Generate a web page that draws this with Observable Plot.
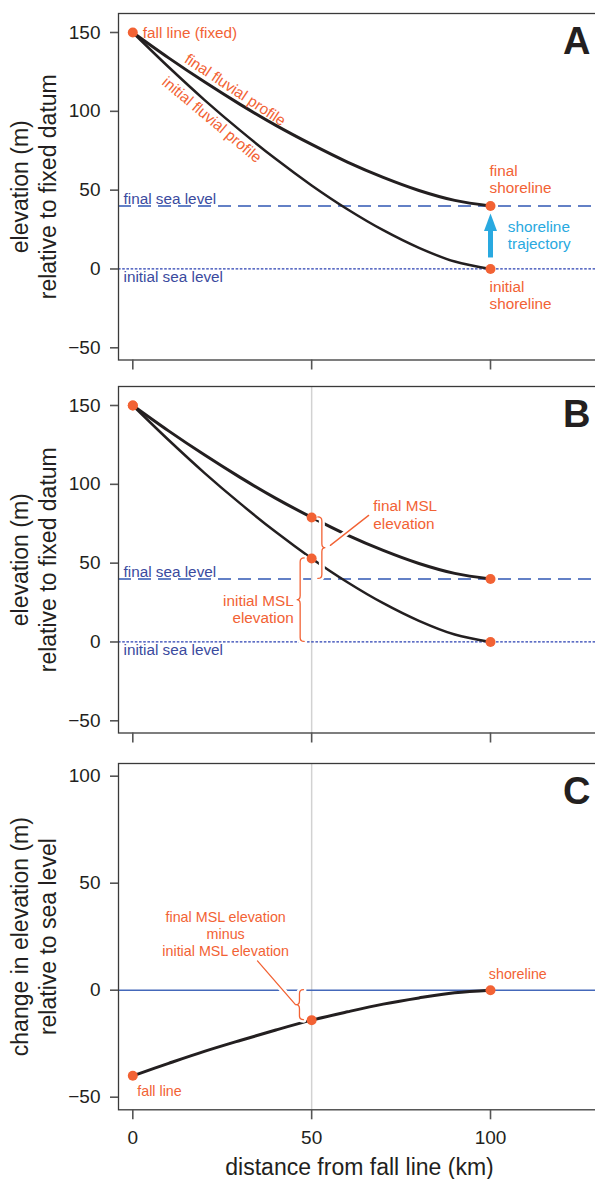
<!DOCTYPE html>
<html><head><meta charset="utf-8">
<script src="https://cdn.jsdelivr.net/npm/d3@7"></script>
<script src="https://cdn.jsdelivr.net/npm/@observablehq/plot@0.6"></script>
<style>
html,body{margin:0;padding:0;background:#fff;}
#wrap{position:relative;width:595px;height:1179px;overflow:hidden;background:#fff;}
</style></head><body><div id="wrap"></div>
<script>
// ---- data ----
const distance       = [0, 10, 20, 30, 40, 50, 60, 70, 80, 90, 100];          // km from fall line
const initialProfile = [150, 128.1, 107.3, 87.9, 69.7, 53, 37.9, 24.6, 13.4, 4.7, 0];   // m
const finalProfile   = [150, 133.9, 118.7, 104.4, 91.1, 79, 67.8, 58.1, 49.8, 43.5, 40]; // m
const changeMSL      = [-40, -34.2, -28.6, -23.5, -18.6, -14, -10.1, -6.5, -3.6, -1.2, 0]; // m
const initialSeaLevel = 0;
const finalSeaLevel = 40;
const fallLineKm = 0, midKm = 50, shorelineKm = 100;
const xTicks = [0, 50, 100];
const yTicksAB = [-50, 0, 50, 100, 150];
const yTicksC = [-50, 0, 50, 100];

// ---- styling ----
const FONT = '"Liberation Sans", Arial, Helvetica, sans-serif';
const ORANGE = "#f26234", INK = "#231f20", NAVY = "#3a4a9e", DASHBLUE = "#3157b4",
      DOTBLUE = "#2b40b2", SKY = "#29a9e0", ZEROBLUE = "#4468ba", GRID = "#d2d2d2",
      FRAME = "#3a3a3a", TICK = "#555";

const rows = arr => distance.map((x, i) => ({x, y: arr[i]}));
const at = (arr, x) => arr[distance.indexOf(x)];
const initialRows = rows(initialProfile), finalRows = rows(finalProfile), changeRows = rows(changeMSL);

const wrap = document.getElementById("wrap");

function braceMark({x, y1, y2, dx, dir, leader}) {
  return (index, scales) => {
    const g = d3.create("svg:g").attr("fill", "none").attr("stroke-linecap", "round");
    const sx = scales.x(x) + dx, a = scales.y(y1), b = scales.y(y2);
    const m = (a + b) / 2, c = 4, t = 3.5;
    const path = `M${sx - dir * c},${a}Q${sx},${a} ${sx},${a + c}L${sx},${m - c}Q${sx},${m} ${sx + dir * t},${m}` +
                 `Q${sx},${m} ${sx},${m + c}L${sx},${b - c}Q${sx},${b} ${sx - dir * c},${b}`;
    const tx = sx + dir * t, ty = m;
    const paths = [path];
    if (leader) paths.push(`M${tx + leader[0]},${ty + leader[1]}L${tx + leader[2]},${ty + leader[3]}`);
    for (const p of paths) g.append("path").attr("d", p).attr("stroke", "white").attr("stroke-width", 6);
    for (const p of paths) g.append("path").attr("d", p).attr("stroke", ORANGE).attr("stroke-width", 1.3);
    return g.node();
  };
}

// arrowhead symbol anchored at the final shoreline, pointing up
const arrowHead = {draw(ctx) { ctx.moveTo(0, 7.5); ctx.lineTo(6.5, 25); ctx.lineTo(-6.5, 25); ctx.closePath(); }};

function label(x, y, text, o = {}) {
  return Plot.text([{x, y}], {x: "x", y: "y", text: () => text, fill: ORANGE, fontSize: 15.3,
    textAnchor: "start", lineAnchor: "bottom", lineHeight: 1.15, ...o});
}
function yTitle(lines) {
  return [
    Plot.text([lines[0]], {text: d => d, frameAnchor: "left", rotate: -90, dx: -98, fontSize: 23, fill: INK, lineAnchor: "middle", textAnchor: "middle"}),
    Plot.text([lines[1]], {text: d => d, frameAnchor: "left", rotate: -90, dx: -70, fontSize: 23, fill: INK, lineAnchor: "middle", textAnchor: "middle"})
  ];
}
function letter(s) {
  return Plot.text([s], {text: d => d, frameAnchor: "top-right", dx: -10, dy: 14, fontSize: 38, fontWeight: "bold",
    fill: INK, textAnchor: "end", lineAnchor: "top"});
}
function seaLevelLines() {
  return [
    Plot.ruleY([finalSeaLevel], {stroke: DASHBLUE, strokeWidth: 1.5, strokeDasharray: "13,7"}),
    Plot.ruleY([initialSeaLevel], {stroke: DOTBLUE, strokeWidth: 1.3, strokeDasharray: "2.6,1.6"}),
    Plot.text([finalSeaLevel], {y: d => d, text: () => "final sea level", frameAnchor: "left", dx: 5, dy: -2,
      fontSize: 15.3, fill: NAVY, textAnchor: "start", lineAnchor: "bottom"}),
    Plot.text([initialSeaLevel], {y: d => d, text: () => "initial sea level", frameAnchor: "left", dx: 5, dy: 13,
      fontSize: 15.3, fill: NAVY, textAnchor: "start", lineAnchor: "bottom"})
  ];
}

function panel({top, height, marginBottom, yDomain, yTicks, showXLabels, marks}) {
  const svg = Plot.plot({
    width: 600, height, marginTop: 13, marginRight: 0, marginBottom, marginLeft: 118,
    x: {domain: [-4, 130.75]},
    y: {domain: yDomain},
    style: {fontFamily: FONT, maxWidth: "none", background: "transparent", position: "absolute", top: top + "px", left: "0px"},
    marks: [
      ...marks,
      Plot.frame({stroke: FRAME, strokeWidth: 1.3}),
      Plot.axisY({ticks: yTicks, tickSize: 8, tickPadding: 10, fontSize: 19, color: INK, stroke: TICK, strokeWidth: 1.6, label: null}),
      Plot.axisX({ticks: xTicks, tickSize: 10, tickPadding: 11, fontSize: 19, color: INK, stroke: TICK, strokeWidth: 1.6, label: null,
        tickFormat: showXLabels ? (d => String(d)) : (() => "")})
    ]
  });
  wrap.appendChild(svg);
}

// ---- Panel A ----
panel({
  top: 0, height: 380, marginBottom: 20.5, yDomain: [-57.74, 162.05], yTicks: yTicksAB,
  marks: [
    ...seaLevelLines(),
    Plot.line(finalRows, {x: "x", y: "y", curve: "catmull-rom", stroke: INK, strokeWidth: 3}),
    Plot.line(initialRows, {x: "x", y: "y", curve: "catmull-rom", stroke: INK, strokeWidth: 2.5}),
    Plot.ruleX([{x: shorelineKm, top: finalSeaLevel, bottom: initialSeaLevel}], {x: "x", y1: "top", y2: "bottom", stroke: SKY, strokeWidth: 5, insetTop: 23, insetBottom: 11}),
    Plot.dot([{x: shorelineKm, y: finalSeaLevel}], {x: "x", y: "y", symbol: arrowHead, fill: SKY, r: 5}),
    Plot.dot([{x: fallLineKm, y: at(finalProfile, 0)}, {x: shorelineKm, y: at(finalProfile, 100)}, {x: shorelineKm, y: at(initialProfile, 100)}],
      {x: "x", y: "y", r: 5, fill: ORANGE}),
    label(fallLineKm, at(finalProfile, 0), "fall line (fixed)", {dx: 10, lineAnchor: "middle"}),
    label(30, at(finalProfile, 30), "final fluvial profile", {dx: -4.6, dy: -15, rotate: 33.5, textAnchor: "middle", lineAnchor: "middle"}),
    label(20, at(initialProfile, 20), "initial fluvial profile", {dx: 7.9, dy: 19.5, rotate: 40, textAnchor: "middle", lineAnchor: "middle"}),
    label(shorelineKm, finalSeaLevel, "final\nshoreline", {dx: -1, dy: -12.7}),
    label(shorelineKm, initialSeaLevel, "initial\nshoreline", {dx: -1, dy: 40.3}),
    label(shorelineKm, finalSeaLevel, "shoreline\ntrajectory", {dx: 17.3, dy: 43.3, fill: SKY}),
    ...yTitle(["elevation (m)", "relative to fixed datum"]),
    letter("A")
  ]
});

// ---- Panel B ----
panel({
  top: 373, height: 380, marginBottom: 20.5, yDomain: [-57.74, 162.05], yTicks: yTicksAB,
  marks: [
    Plot.ruleX([midKm], {stroke: GRID, strokeWidth: 1.5}),
    ...seaLevelLines(),
    Plot.line(finalRows, {x: "x", y: "y", curve: "catmull-rom", stroke: INK, strokeWidth: 3}),
    Plot.line(initialRows, {x: "x", y: "y", curve: "catmull-rom", stroke: INK, strokeWidth: 2.5}),
    braceMark({x: midKm, y1: at(finalProfile, 50), y2: finalSeaLevel, dx: 10.7, dir: 1, leader: [5, -2.3, 43.3, -32.3]}),
    braceMark({x: midKm, y1: at(initialProfile, 50), y2: initialSeaLevel, dx: -11, dir: -1}),
    Plot.dot([0, 50, 100].flatMap(x => [{x, y: at(finalProfile, x)}, {x, y: at(initialProfile, x)}]),
      {x: "x", y: "y", r: 5, fill: ORANGE}),
    label(midKm, at(finalProfile, 50), "final MSL\nelevation", {dx: 61.7, dy: 11.6}),
    label(midKm, at(initialProfile, 50), "initial MSL\nelevation", {dx: -18, dy: 65, textAnchor: "end"}),
    ...yTitle(["elevation (m)", "relative to fixed datum"]),
    letter("B")
  ]
});

// ---- Panel C ----
panel({
  top: 750, height: 429, marginBottom: 69.7, yDomain: [-55.89, 105.93], yTicks: yTicksC, showXLabels: true,
  marks: [
    Plot.ruleX([midKm], {stroke: GRID, strokeWidth: 1.5}),
    Plot.ruleY([0], {stroke: ZEROBLUE, strokeWidth: 1.4}),
    Plot.line(changeRows, {x: "x", y: "y", curve: "catmull-rom", stroke: INK, strokeWidth: 3}),
    braceMark({x: midKm, y1: 0, y2: at(changeMSL, 50), dx: -11.7, dir: -1, leader: [-0.5, 0, -38.5, -43.8]}),
    Plot.dot([0, 50, 100].map(x => ({x, y: at(changeMSL, x)})), {x: "x", y: "y", r: 5, fill: ORANGE}),
    label(fallLineKm, at(changeMSL, 0), "fall line", {dx: 4.4, dy: 20.7, fontSize: 14.3}),
    label(shorelineKm, at(changeMSL, 100), "shoreline", {dx: -1.7, dy: -11.6, fontSize: 14.3}),
    label(midKm, at(changeMSL, 50), "final MSL elevation\nminus\ninitial MSL elevation", {dx: -86, dy: -64.5, fontSize: 14.3, textAnchor: "middle", lineHeight: 1.17}),
    ...yTitle(["change in elevation (m)", "relative to sea level"]),
    Plot.text(["distance from fall line (km)"], {text: d => d, frameAnchor: "bottom", dy: 65, fontSize: 23, fill: INK, lineAnchor: "bottom"}),
    letter("C")
  ]
});
</script>
</body></html>
